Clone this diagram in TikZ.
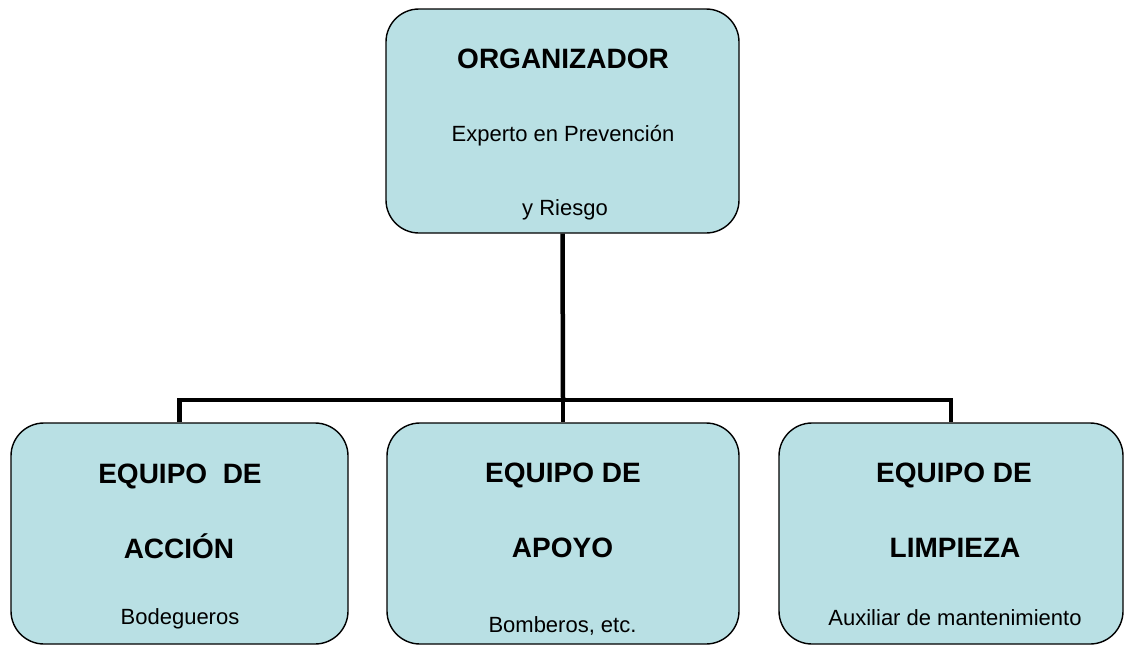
\documentclass[tikz,border=0pt]{standalone}
\usepackage{fontspec}
\setmainfont{Liberation Sans}
\definecolor{boxfill}{RGB}{185,224,228}
\begin{document}
\begin{tikzpicture}[x=1pt,y=-1pt,
  box/.style={draw=black, line width=1.4pt, fill=boxfill, rounded corners=33pt, inner sep=0pt},
  conn/.style={draw=black, line width=4.5pt},
  title/.style={anchor=base, inner sep=0pt, font=\fontsize{28}{34}\selectfont\bfseries},
  sub/.style={anchor=base, inner sep=0pt, font=\fontsize{22}{26}\selectfont}]
\useasboundingbox (0,0) rectangle (1126,646);
% boxes
\node[box, minimum width=353pt, minimum height=224pt] (org) at (562.5,121) {};
\node[box, minimum width=337pt, minimum height=221pt] (acc) at (179.5,533.5) {};
\node[box, minimum width=352pt, minimum height=221pt] (apo) at (563,533.5) {};
\node[box, minimum width=344pt, minimum height=221pt] (lim) at (951,533.5) {};
% connectors
\coordinate (j) at (563,400);
\draw[conn] (org.south) -- (j);
\draw[conn] (acc.north) |- (j) -| (lim.north);
\draw[conn] (j) -- (apo.north);
% texts
\node[title] (t1) at (563,68) {ORGANIZADOR};
\node[sub] (s1) at (563,141) {Experto en Prevención};
\node[sub] (s2) at (565,215) {y Riesgo};
\node[title] (t2) at (180,483) {EQUIPO\ \ DE};
\node[title] (t3) at (179,558) {ACCIÓN};
\node[sub] (s3) at (180,624) {Bodegueros};
\node[title] (t4) at (563,482) {EQUIPO DE};
\node[title] (t5) at (562.5,557) {APOYO};
\node[sub] (s4) at (562.5,632) {Bomberos, etc.};
\node[title] (t6) at (954,482) {EQUIPO DE};
\node[title] (t7) at (955,557) {LIMPIEZA};
\node[sub] (s5) at (955,625) {Auxiliar de mantenimiento};
\end{tikzpicture}
\end{document}
